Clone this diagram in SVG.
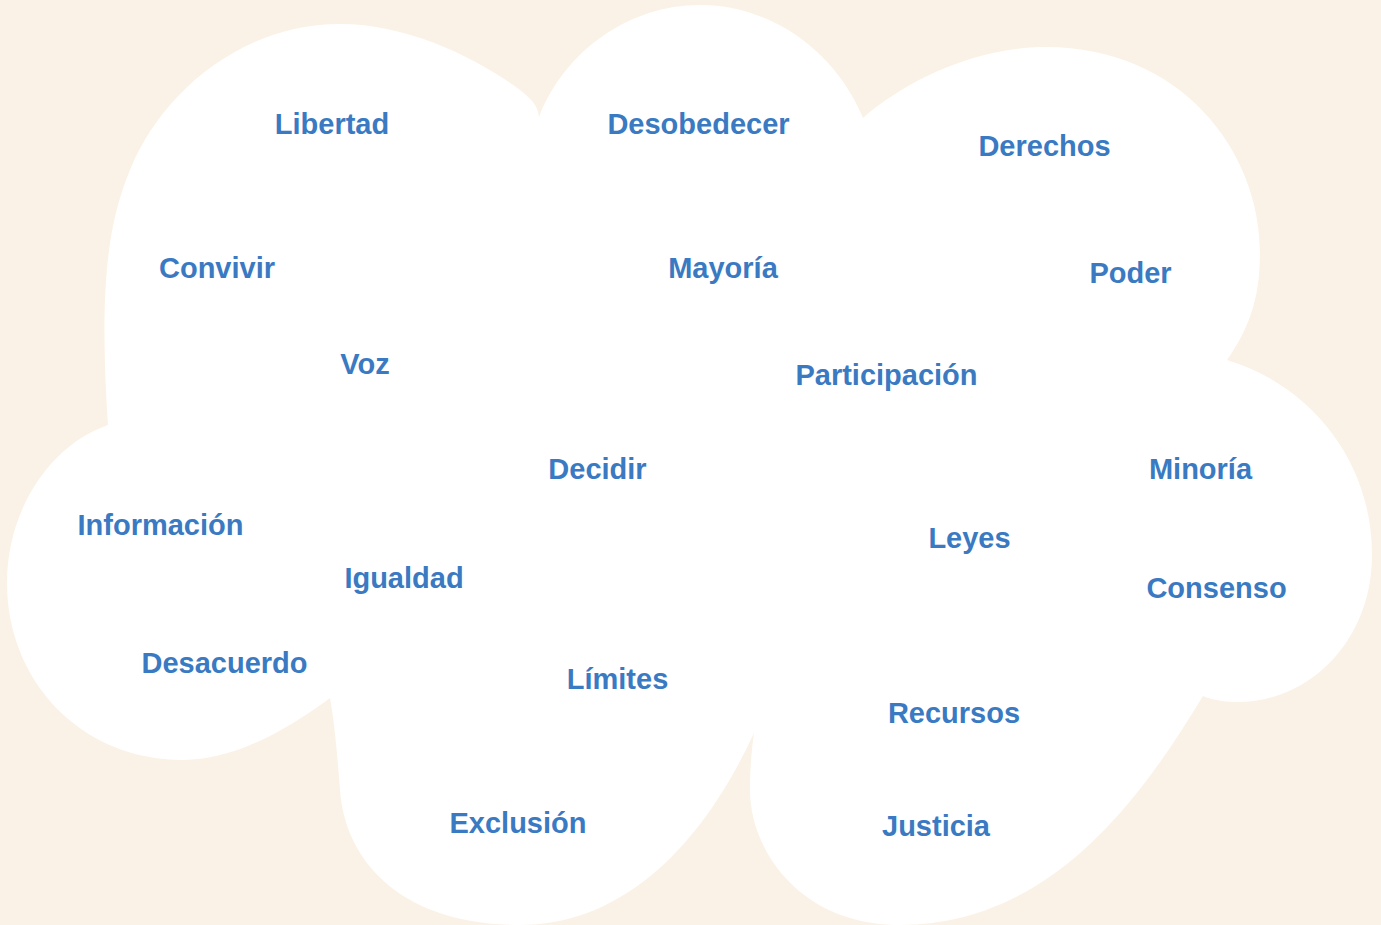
<svg xmlns="http://www.w3.org/2000/svg" width="1381" height="925" viewBox="0 0 1381 925">
<style>
.bg{fill:#faf2e6}
.cloud{fill:#ffffff}
.w{font-family:"Liberation Sans",Arial,sans-serif;font-weight:700;font-size:29px;fill:#3a7ac2;text-anchor:middle}
</style>
<rect class="bg" x="0" y="0" width="1381" height="925"/>
<path id="cloud" class="cloud" d="M108,425 C100,300 105,230 130,170 C160,95 240,24 340,24 C410,24 480,60 520,90 C530,98 538,105 539,117 C565,50 630,5 700,5 C770,5 835,50 863,118 C900,85 970,47 1046,47 C1180,47 1260,150 1260,253 C1260,300 1248,330 1227,360 C1310,385 1372,460 1372,555 C1372,640 1310,702 1238,702 C1225,702 1213,700 1203,696 C1140,800 1050,925 900,925 C800,925 750,850 750,790 C750,765 752,748 754,733 C700,850 620,925 520,925 C400,925 345,860 340,790 C337,750 334,720 330,698 C280,735 230,760 183,760 C80,760 7,680 7,583 C7,510 50,445 108,425 Z"/>
<g id="libertad"><text class="w" x="332" y="133.5">Libertad</text></g>
<g id="desobedecer"><text class="w" x="698.5" y="133.5">Desobedecer</text></g>
<g id="derechos"><text class="w" x="1044.5" y="155.5">Derechos</text></g>
<g id="convivir"><text class="w" x="217" y="277.5">Convivir</text></g>
<g id="mayoria"><text class="w" x="723" y="277.5">Mayoría</text></g>
<g id="poder"><text class="w" x="1130.5" y="282.5">Poder</text></g>
<g id="voz"><text class="w" x="365" y="373.5">Voz</text></g>
<g id="participacion"><text class="w" x="886.5" y="384.5">Participación</text></g>
<g id="decidir"><text class="w" x="597.5" y="478.5">Decidir</text></g>
<g id="minoria"><text class="w" x="1200.5" y="478.5">Minoría</text></g>
<g id="informacion"><text class="w" x="160.5" y="534.5">Información</text></g>
<g id="leyes"><text class="w" x="969.5" y="547.5">Leyes</text></g>
<g id="igualdad"><text class="w" x="404" y="587.5">Igualdad</text></g>
<g id="consenso"><text class="w" x="1216.5" y="598">Consenso</text></g>
<g id="desacuerdo"><text class="w" x="224.5" y="673">Desacuerdo</text></g>
<g id="limites"><text class="w" x="617.5" y="688.5">Límites</text></g>
<g id="recursos"><text class="w" x="954" y="722.5">Recursos</text></g>
<g id="exclusion"><text class="w" x="518" y="832.5">Exclusión</text></g>
<g id="justicia"><text class="w" x="936" y="835.5">Justicia</text></g>
</svg>
